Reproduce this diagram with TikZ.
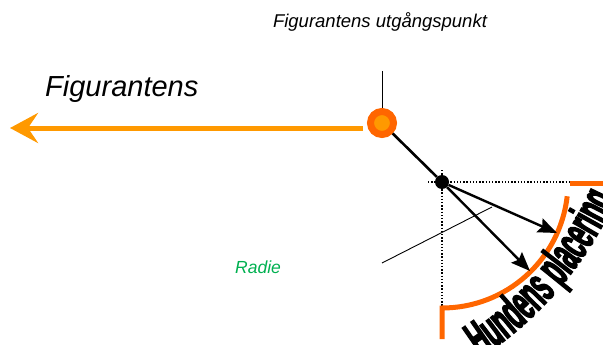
\documentclass[tikz,border=0pt]{standalone}
\usepackage{fontspec}
\setmainfont{Liberation Sans}
\newfontfamily\hfont[FakeStretch=0.46,FakeBold=2.5]{Liberation Sans Bold}
\usetikzlibrary{arrows.meta,decorations.text}
\definecolor{lor}{HTML}{FF9900}
\definecolor{dor}{HTML}{FF6600}
\definecolor{rgreen}{RGB}{0,176,80}
\tikzset{
  dotline/.style={line width=1.3pt, dash pattern=on 1.3pt off 1.9pt},
  orangebar/.style={line width=5pt, draw=dor},
  blackarrow/.style={line width=2.4pt, -{Stealth[length=19pt,width=15pt,inset=3pt]}},
  thinline/.style={line width=0.9pt},
}
\begin{document}
\begin{tikzpicture}[x=1pt,y=1pt]
\useasboundingbox (0,0) rectangle (603,-345);
\clip (0,0) rectangle (603,-345);
% texts
\node[anchor=base, font=\itshape\fontsize{18.5}{20}\selectfont, inner sep=0] (title) at (380,-28) {Figurantens utgångspunkt};
\node[anchor=base west, font=\itshape\fontsize{29}{31}\selectfont, inner sep=0] (fig) at (45,-96) {Figurantens};
\node[anchor=base west, font=\itshape\fontsize{17.5}{19}\selectfont, text=rgreen, inner sep=0] (radie) at (235,-273) {Radie};
% orange arrow
\coordinate (astart) at (363,-128);
\coordinate (aend) at (10,-128);
\draw[line width=5pt, draw=lor, -{Stealth[length=28pt,width=30pt,inset=10pt,fill=lor]}] (astart) -- (aend);
% start circle
\node[circle, minimum size=23pt, inner sep=0, line width=7pt, draw=dor, fill=lor] (start) at (382,-123) {};
\coordinate (top) at (382,-71);
\draw[thinline] (top) -- (start.north);
% pivot dot
\node[circle, minimum size=14pt, inner sep=0, fill=black] (pivot) at (442,-182) {};
\draw[line width=2.6pt] (start) -- (pivot);
% dotted guides
\coordinate (hl) at (428,-182);
\coordinate (hr) at (570,-182);
\coordinate (vt) at (442,-170);
\coordinate (vb) at (442,-307);
\draw[dotline] (hl) -- (hr);
\draw[dotline] (vt) -- (vb);
% orange parts
\coordinate (dl) at (570,-183);
\coordinate (dr) at (603,-183);
\draw[orangebar] (dl) -- (dr);
\draw[orangebar] (pivot.center) ++(-6.5:126) arc[start angle=-6.5, end angle=-90, radius=126] -- ++(0,-31);
% black arrows
\coordinate (t1) at (557,-233);
\coordinate (t2) at (530,-271);
\draw[blackarrow] (pivot) -- (t1);
\draw[blackarrow] (pivot) -- (t2);
% thin line
\coordinate (la) at (382,-263);
\coordinate (lb) at (492,-207);
\draw[thinline] (la) -- (lb);
% curved text
\path[decorate, decoration={text along path, text align=left,
  text={|\hfont\fontsize{51}{51}\selectfont|Hundens placering}}]
  (274,-45) ++(-56.5:375) arc[start angle=-56.5, end angle=5, radius=375];
\end{tikzpicture}
\end{document}
